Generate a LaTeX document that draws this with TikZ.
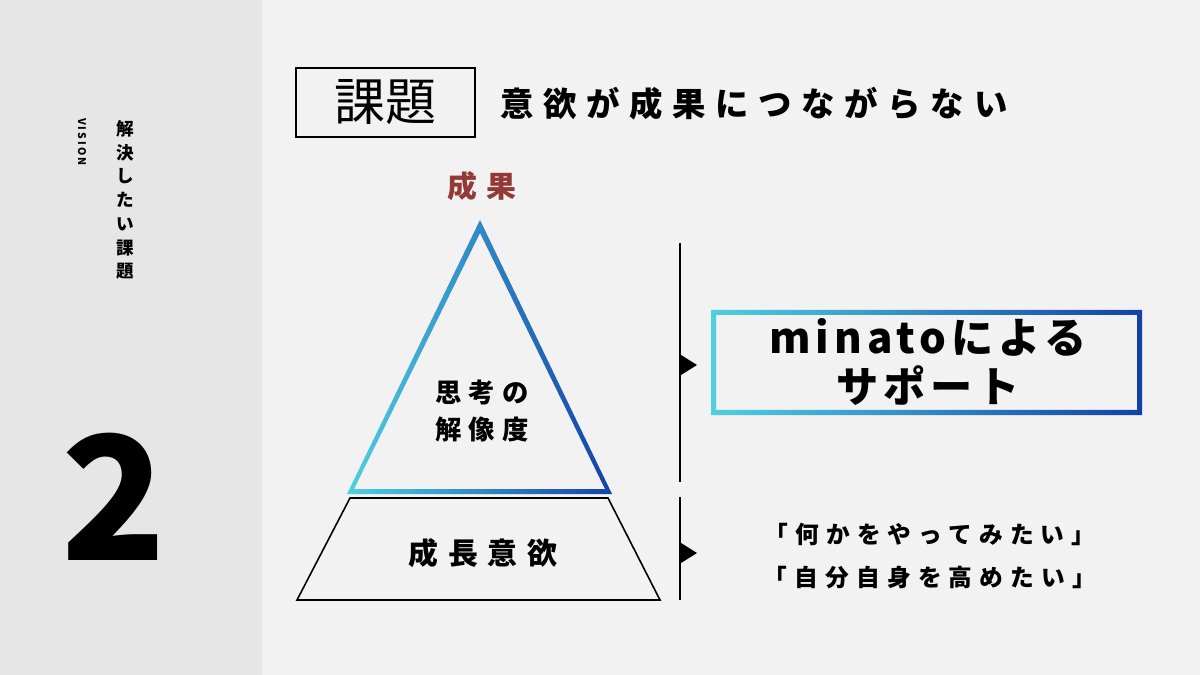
\documentclass[tikz,border=0pt]{standalone}
\usepackage{fontspec}
\setmainfont{Noto Sans CJK JP}
\newfontfamily\cjk{Noto Sans CJK JP}
\usepackage{tikz}
\usetikzlibrary{arrows.meta,positioning,calc}
\definecolor{panel}{HTML}{E6E6E6}
\definecolor{page}{HTML}{F2F2F2}
\definecolor{result}{HTML}{943A36}
\definecolor{grcyan}{HTML}{4FD0E0}
\definecolor{grblue}{HTML}{1241A8}
\newcommand{\spaced}[1]{\addfontfeatures{LetterSpace=#1}}

\begin{document}
\begin{tikzpicture}[
  x=0.02cm, y=-0.02cm,
  label/.style={font=\cjk\bfseries, align=center, inner sep=0pt},
  marker/.style={fill=black, draw=none},
  divider/.style={draw=black, line width=0.9pt}
]
  % background
  \fill[page] (0,0) rectangle (1200,675);
  \fill[panel] (0,0) rectangle (262,675);
  \useasboundingbox (0,0) rectangle (1200,675);
  % side panel
  \node[label, font=\cjk\bfseries\fontsize{6}{6}\selectfont\spaced{20}, rotate=-90] (vision) at (82,142) {VISION};
  \node[label, font=\cjk\bfseries\fontsize{10}{13.5}\selectfont] (sidetitle) at (125,200) {解\\決\\し\\た\\い\\課\\題};
  \node[label, font=\cjk\bfseries\fontsize{98}{98}\selectfont] (number) at (114,497) {2};
  % heading
  \node[draw, line width=0.8pt, minimum width=179*0.02cm, minimum height=69*0.02cm, font=\cjk\fontsize{29}{29}\selectfont] (issue) at (385.5,102.5) {課題};
  \node[label, font=\cjk\bfseries\fontsize{19}{19}\selectfont\spaced{29}, anchor=west] (issuetext) at (500,104) {意欲が成果につながらない};
  % pyramid
  \node[label, text=result, font=\cjk\bfseries\fontsize{17}{17}\selectfont\spaced{30}] (goal) at (482,186) {成果};
  \shade[left color=grcyan, right color=grblue, even odd rule]
    (480,220) -- (347,494) -- (612,494) -- cycle
    (480,233) -- (354,489) -- (605,489) -- cycle;
  \node[label, font=\cjk\bfseries\fontsize{15}{21}\selectfont\spaced{28}] (thinking) at (482,411) {思考の\\解像度};
  \draw[line width=0.9pt] (350,498) -- (608,498) -- (660,600) -- (297,600) -- cycle;
  \node[label, font=\cjk\bfseries\fontsize{17}{17}\selectfont\spaced{33}] (motivation) at (483,553) {成長意欲};
  % dividers
  \coordinate (upTop) at (680,243);
  \coordinate (upBot) at (680,482);
  \coordinate (lowTop) at (680,497);
  \coordinate (lowBot) at (680,600);
  \draw[divider] (upTop) -- (upBot);
  \draw[divider] (lowTop) -- (lowBot);
  \fill[marker] (681,355) -- (697,365) -- (681,375) -- cycle;
  \fill[marker] (681,543) -- (697,553) -- (681,563) -- cycle;
  % support box
  \shade[left color=grcyan, right color=grblue, even odd rule]
    (711,310) rectangle (1142,415)
    (716,315) rectangle (1137,410);
  \node[label, font=\cjk\bfseries\fontsize{24}{28}\selectfont\spaced{12}] (support) at (928,362) {minatoによる\\サポート};
  \node[label, font=\cjk\bfseries\fontsize{13.5}{24}\selectfont\spaced{30}] (wishes) at (930,556) {「何かをやってみたい」\\「自分自身を高めたい」};
\end{tikzpicture}
\end{document}
